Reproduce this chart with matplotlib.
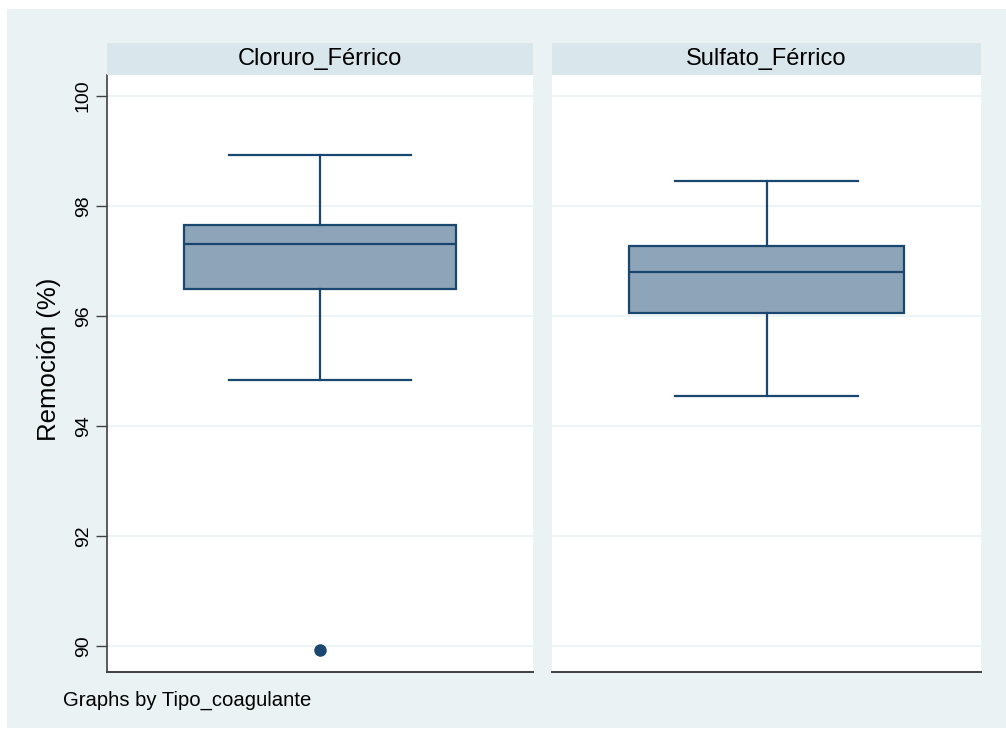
import matplotlib
matplotlib.use("Agg")
import matplotlib.pyplot as plt
from matplotlib.patches import Rectangle

plt.rcParams["font.family"] = ["Liberation Sans", "DejaVu Sans"]

# data (Remoción %, per coagulant)
groups = ["Cloruro_Férrico", "Sulfato_Férrico"]
whisker_low = [94.84, 94.55]
q1 = [96.49, 96.05]
median = [97.31, 96.80]
q3 = [97.65, 97.27]
whisker_high = [98.93, 98.45]
outliers = [[89.93], []]
y_ticks = [90, 92, 94, 96, 98, 100]

navy = "#1a476f"
fill = "#8ea4b8"
outer_bg = "#eaf2f3"
strip_bg = "#d9e6eb"
grid_col = "#eaf2f3"

W, H = 1006, 735
fig = plt.figure(figsize=(W / 100, H / 100), dpi=100, facecolor="white")
fig.patches.append(Rectangle((7 / W, 7 / H), 1 - 7 / W, 1 - 16 / H,
                             transform=fig.transFigure, facecolor=outer_bg,
                             edgecolor="none", zorder=-10))

panels = [(107, 533), (552, 981)]
top_px, bot_px, strip_top = 75, 672, 43

for i, (x0, x1) in enumerate(panels):
    ax = fig.add_axes([x0 / W, 1 - bot_px / H, (x1 - x0) / W, (bot_px - top_px) / H])
    ax.set_facecolor("white")
    stats = [{
        "whislo": whisker_low[i], "q1": q1[i], "med": median[i],
        "q3": q3[i], "whishi": whisker_high[i], "fliers": outliers[i],
    }]
    ax.bxp(stats, positions=[0], widths=0.64, patch_artist=True,
           boxprops=dict(facecolor=fill, edgecolor=navy, linewidth=1.6),
           medianprops=dict(color=navy, linewidth=1.6),
           whiskerprops=dict(color=navy, linewidth=1.6),
           capprops=dict(color=navy, linewidth=1.6),
           capwidths=0.425,
           flierprops=dict(marker="o", markerfacecolor=navy, markeredgecolor=navy,
                           markersize=8))
    ax.set_xlim(-0.5, 0.5)
    ax.set_ylim(89.53, 100.38)
    ax.set_xticks([])
    ax.set_yticks(y_ticks)
    ax.grid(axis="y", color=grid_col, linewidth=1.2)
    ax.set_axisbelow(True)
    for s in ("top", "right"):
        ax.spines[s].set_visible(False)
    ax.spines["bottom"].set_color("#404040")
    ax.spines["bottom"].set_linewidth(1.4)
    if i == 0:
        ax.spines["left"].set_color("#404040")
        ax.spines["left"].set_linewidth(1.2)
        ax.tick_params(axis="y", length=8, width=1, color="#404040",
                       labelsize=14, labelrotation=90, pad=3)
        for lab in ax.get_yticklabels():
            lab.set_va("center")
        ax.set_ylabel("Remoción (%)", fontsize=18.5, labelpad=10)
        ax.yaxis.label.set_y(0.523)
    else:
        ax.spines["left"].set_visible(False)
        ax.tick_params(axis="y", length=0, labelleft=False)

    sax = fig.add_axes([x0 / W, 1 - top_px / H, (x1 - x0) / W, (top_px - strip_top) / H])
    sax.set_facecolor(strip_bg)
    sax.set_xticks([])
    sax.set_yticks([])
    for s in sax.spines.values():
        s.set_visible(False)
    sax.text(0.5, 0.5, groups[i], ha="center", va="center", fontsize=17,
             transform=sax.transAxes)

fig.text(63 / W, 1 - 700 / H, "Graphs by Tipo_coagulante", ha="left", va="center",
         fontsize=14.6)

fig.savefig("out.png", dpi=100, facecolor="white")
